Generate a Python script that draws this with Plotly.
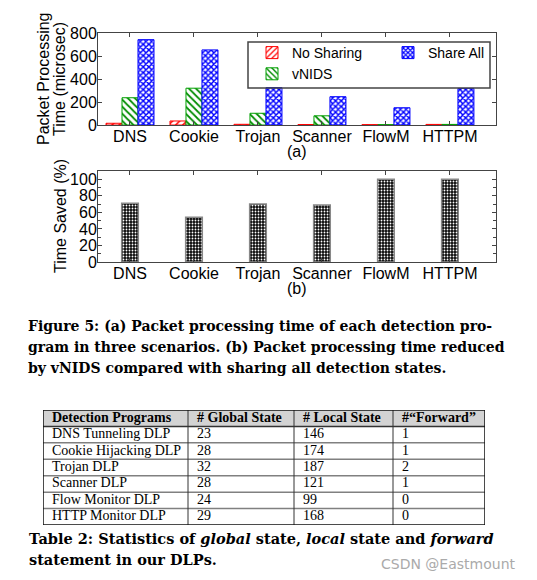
import plotly.graph_objects as go

programs = ['DNS', 'Cookie', 'Trojan', 'Scanner', 'FlowM', 'HTTPM']

# (a) packet processing time, microsec
no_sharing = [15, 35, 6, 4, 3, 5]
vnids = [237, 320, 102, 80, 3, 5]
share_all = [742, 653, 325, 246, 150, 318]

# (b) time saved, %
time_saved = [71, 54, 70, 69, 100, 100]

# table 2
tbl_header = ['Detection Programs', '# Global State', '# Local State', '#\u201cForward\u201d']
tbl_programs = ['DNS Tunneling DLP', 'Cookie Hijacking DLP', 'Trojan DLP',
                'Scanner DLP', 'Flow Monitor DLP', 'HTTP Monitor DLP']
tbl_global = [23, 28, 32, 28, 24, 29]
tbl_local = [146, 174, 187, 121, 99, 168]
tbl_forward = [1, 1, 2, 1, 0, 0]
tbl_colwidths = [145, 106, 99, 92]

W, H = 537, 580
PAGE_PAD = 8  # the html body margin moves the figure by this much
SANS = 'Liberation Sans'
SERIF = 'Liberation Serif'
CAPTION = 'DejaVu Serif'


def px(x):
    return (x - PAGE_PAD) / W


def py(y):
    return 1 - (y - PAGE_PAD) / H


fig = go.Figure()

fig.add_trace(go.Bar(
    x=programs, y=no_sharing, name='No Sharing', legend='legend',
    marker=dict(color='#ff0000', line=dict(color='#ff0000', width=1),
                pattern=dict(shape='/', fillmode='replace', fgcolor='#ff0000',
                             bgcolor='white', size=5, solidity=0.3)),
    xaxis='x', yaxis='y'))
fig.add_trace(go.Bar(
    x=programs, y=vnids, name='vNIDS', legend='legend',
    marker=dict(color='#00a000', line=dict(color='#00a000', width=1),
                pattern=dict(shape='\\', fillmode='replace', fgcolor='#008c00',
                             bgcolor='white', size=5, solidity=0.35)),
    xaxis='x', yaxis='y'))
fig.add_trace(go.Bar(
    x=programs, y=share_all, name='Share All', legend='legend2',
    marker=dict(color='#0000ff', line=dict(color='#0000ff', width=1),
                pattern=dict(shape='x', fillmode='replace', fgcolor='#0000ff',
                             bgcolor='white', size=4, solidity=0.6)),
    xaxis='x', yaxis='y'))

fig.add_trace(go.Bar(
    x=programs, y=time_saved, showlegend=False,
    marker=dict(color='#111111', line=dict(color='#888888', width=1.5),
                pattern=dict(shape='.', fillmode='replace', fgcolor='#ffffff',
                             bgcolor='#0a0a0a', size=3, solidity=0.3)),
    width=0.26, xaxis='x2', yaxis='y2'))

# table: one text column per table column, on its own hidden axes (1 unit = 1 px)
col_left = [sum(tbl_colwidths[:i]) for i in range(len(tbl_colwidths))]
tbl_width = sum(tbl_colwidths)
n_rows = len(tbl_programs) + 1
columns = [tbl_programs, tbl_global, tbl_local, tbl_forward]
for left, head, vals in zip(col_left, tbl_header, columns):
    fig.add_trace(go.Scatter(
        x=[left + 9] * n_rows, y=list(range(n_rows)),
        text=['<b>%s</b>' % head] + [str(v) for v in vals],
        mode='text', textposition='middle right', showlegend=False,
        hoverinfo='skip', cliponaxis=False,
        textfont=dict(family=SERIF, size=14, color='black'),
        xaxis='x3', yaxis='y3'))

tbl_shapes = [dict(type='rect', xref='x3', yref='y3', x0=0, x1=tbl_width,
                   y0=-0.5, y1=0.5, fillcolor='#d3d3d3', line=dict(width=0),
                   layer='below')]
for r in range(1, n_rows):
    tbl_shapes.append(dict(type='line', xref='x3', yref='y3', x0=0, x1=tbl_width,
                           y0=r - 0.5, y1=r - 0.5,
                           line=dict(color='#333333' if r == 1 else '#808080',
                                     width=1.5)))
for left in col_left[1:]:
    tbl_shapes.append(dict(type='line', xref='x3', yref='y3', x0=left, x1=left,
                           y0=-0.5, y1=n_rows - 0.5,
                           line=dict(color='#333333', width=1)))
tbl_shapes.append(dict(type='rect', xref='x3', yref='y3', x0=0, x1=tbl_width,
                       y0=-0.5, y1=n_rows - 0.5,
                       line=dict(color='#111111', width=1.5)))

axis_common = dict(showline=True, linecolor='#444444', linewidth=1, mirror='ticks',
                   ticks='inside', ticklen=4, tickcolor='#444444', showgrid=False,
                   zeroline=False, automargin=False, ticklabelstandoff=-3,
                   tickfont=dict(family=SANS, size=16, color='black'))

fig.update_layout(
    template='none',
    width=W, height=H, margin=dict(l=0, r=0, t=0, b=0, autoexpand=False),
    paper_bgcolor='white', plot_bgcolor='white',
    barmode='group', bargap=0.25, bargroupgap=0,
    xaxis=dict(domain=[px(98), px(496)], anchor='y', range=[-0.5, 5.72],
               categoryorder='array', categoryarray=programs, **axis_common),
    yaxis=dict(domain=[py(125), py(33)], anchor='x', range=[0, 800], dtick=200,
               **axis_common),
    xaxis2=dict(domain=[px(98), px(496)], anchor='y2', range=[-0.5, 5.72],
                categoryorder='array', categoryarray=programs, **axis_common),
    yaxis2=dict(domain=[py(262), py(171)], anchor='x2', range=[0, 110], dtick=20,
                minor=dict(dtick=10, ticks='inside', ticklen=3, tickcolor='#444444'),
                **axis_common),
    xaxis3=dict(domain=[px(43), px(485)], anchor='y3', range=[0, tbl_width],
                visible=False, fixedrange=True),
    yaxis3=dict(domain=[py(525), py(410)], anchor='x3', range=[n_rows - 0.5, -0.5],
                visible=False, fixedrange=True),
    legend=dict(x=px(252), y=py(37), xanchor='left', yanchor='top',
                bgcolor='rgba(0,0,0,0)', tracegroupgap=0,
                font=dict(family=SANS, size=14, color='black')),
    legend2=dict(x=px(388), y=py(37), xanchor='left', yanchor='top',
                 bgcolor='rgba(0,0,0,0)',
                 font=dict(family=SANS, size=14, color='black')),
    shapes=[dict(type='rect', xref='paper', yref='paper',
                 x0=px(248), x1=px(490), y0=py(88), y1=py(42),
                 line=dict(color='#444444', width=1.5), layer='above')] + tbl_shapes,
)

notes = [
    ('Packet Processing', px(44), py(79), 'center', SANS, 16, 'black', -90),
    ('Time (microsec)', px(60), py(79), 'center', SANS, 16, 'black', -90),
    ('Time Saved (%)', px(60), py(216), 'center', SANS, 16, 'black', -90),
    ('(a)', px(297), py(151), 'center', SANS, 16, 'black', 0),
    ('(b)', px(297), py(288), 'center', SANS, 16, 'black', 0),
    ('<b>Figure 5: (a) Packet processing time of each detection pro-</b>',
     px(26), py(326), 'left', CAPTION, 14, 'black', 0),
    ('<b>gram in three scenarios. (b) Packet processing time reduced</b>',
     px(26), py(347), 'left', CAPTION, 14, 'black', 0),
    ('<b>by vNIDS compared with sharing all detection states.</b>',
     px(26), py(368), 'left', CAPTION, 14, 'black', 0),
    ('<b>Table 2: Statistics of <i>global</i> state, <i>local</i> state and <i>forward</i></b>',
     px(27), py(538), 'left', CAPTION, 14.5, 'black', 0),
    ('<b>statement in our DLPs.</b>', px(27), py(559), 'left', CAPTION, 14.5, 'black', 0),
    ('CSDN @Eastmount', px(379), py(564), 'left', 'DejaVu Sans', 14, '#aaaaaa', 0),
]
for text, x, y, anchor, fam, size, col, angle in notes:
    fig.add_annotation(text=text, x=x, y=y, xref='paper', yref='paper',
                       xanchor=anchor, yanchor='middle', showarrow=False,
                       textangle=angle,
                       font=dict(family=fam, size=size, color=col))

fig.write_html("out.html")
